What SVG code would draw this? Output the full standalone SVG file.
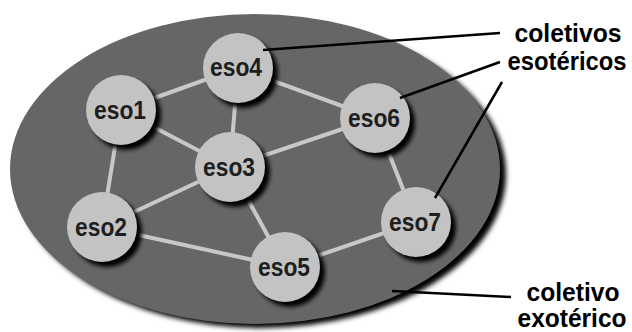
<svg xmlns="http://www.w3.org/2000/svg" width="632" height="332" viewBox="0 0 632 332">
  <defs>
    <filter id="soft" x="-20%" y="-20%" width="140%" height="140%">
      <feGaussianBlur stdDeviation="2.5"/>
    </filter>
    <filter id="softSmall" x="-30%" y="-30%" width="160%" height="160%">
      <feGaussianBlur stdDeviation="2"/>
    </filter>
  </defs>
  <style>
    .edge { stroke: #c8c8c8; stroke-width: 4; fill: none; }
    .pointer { stroke: #000; stroke-width: 2.5; fill: none; }
    .disc { fill: #c3c3c3; }
    .shadow { fill: #000; filter: url(#softSmall); }
    .name { font-family: "Liberation Sans", Arial, sans-serif; font-weight: bold; font-size: 22px; fill: #1e1e1e; text-anchor: middle; }
    .label { font-family: "Liberation Sans", Arial, sans-serif; font-weight: bold; font-size: 23px; fill: #000; text-anchor: middle; }
  </style>

  <!-- outer region -->
  <g id="exoteric">
    <ellipse cx="261" cy="174" rx="245" ry="154" fill="#000" filter="url(#soft)"/>
    <ellipse cx="255" cy="169" rx="245" ry="155" fill="#666"/>
  </g>

  <!-- links between members -->
  <g id="connectors">
    <line class="edge" x1="121" y1="110" x2="238" y2="68"/>
    <line class="edge" x1="238" y1="68" x2="375" y2="118"/>
    <line class="edge" x1="238" y1="68" x2="230" y2="167"/>
    <line class="edge" x1="121" y1="110" x2="230" y2="167"/>
    <line class="edge" x1="121" y1="110" x2="102" y2="227"/>
    <line class="edge" x1="230" y1="167" x2="375" y2="118"/>
    <line class="edge" x1="230" y1="167" x2="102" y2="227"/>
    <line class="edge" x1="230" y1="167" x2="285" y2="267"/>
    <line class="edge" x1="102" y1="227" x2="285" y2="267"/>
    <line class="edge" x1="285" y1="267" x2="416" y2="222"/>
    <line class="edge" x1="375" y1="118" x2="416" y2="222"/>
  </g>

  <!-- node names are set slightly taller than wide -->
  <g id="eso1">
    <circle class="shadow" cx="126" cy="115" r="35"/>
    <circle class="disc" cx="121" cy="110" r="35"/>
    <text class="name" transform="translate(120 119) scale(1 1.18)" textLength="52" lengthAdjust="spacingAndGlyphs">eso1</text>
  </g>
  <g id="eso2">
    <circle class="shadow" cx="107" cy="232" r="35"/>
    <circle class="disc" cx="102" cy="227" r="35"/>
    <text class="name" transform="translate(101 236) scale(1 1.18)" textLength="52" lengthAdjust="spacingAndGlyphs">eso2</text>
  </g>
  <g id="eso3">
    <circle class="shadow" cx="235" cy="172" r="35"/>
    <circle class="disc" cx="230" cy="167" r="35"/>
    <text class="name" transform="translate(229 176) scale(1 1.18)" textLength="52" lengthAdjust="spacingAndGlyphs">eso3</text>
  </g>
  <g id="eso4">
    <circle class="shadow" cx="243" cy="73" r="35"/>
    <circle class="disc" cx="238" cy="68" r="35"/>
    <text class="name" transform="translate(236 76) scale(1 1.18)" textLength="52" lengthAdjust="spacingAndGlyphs">eso4</text>
  </g>
  <g id="eso5">
    <circle class="shadow" cx="290" cy="272" r="35"/>
    <circle class="disc" cx="285" cy="267" r="35"/>
    <text class="name" transform="translate(284 276) scale(1 1.18)" textLength="52" lengthAdjust="spacingAndGlyphs">eso5</text>
  </g>
  <g id="eso6">
    <circle class="shadow" cx="380" cy="123" r="35"/>
    <circle class="disc" cx="375" cy="118" r="35"/>
    <text class="name" transform="translate(374 127) scale(1 1.18)" textLength="52" lengthAdjust="spacingAndGlyphs">eso6</text>
  </g>
  <g id="eso7">
    <circle class="shadow" cx="421" cy="227" r="35"/>
    <circle class="disc" cx="416" cy="222" r="35"/>
    <text class="name" transform="translate(415 231) scale(1 1.18)" textLength="52" lengthAdjust="spacingAndGlyphs">eso7</text>
  </g>

  <!-- annotation pointers -->
  <g id="pointers">
    <line class="pointer" x1="263" y1="50" x2="500" y2="33"/>
    <line class="pointer" x1="400" y1="98" x2="500" y2="62"/>
    <line class="pointer" x1="502" y1="82" x2="435" y2="198"/>
    <line class="pointer" x1="392" y1="291" x2="511" y2="297"/>
  </g>

  <g id="label-esoteric">
    <text class="label" transform="translate(568 42) scale(1 1.15)" textLength="107" lengthAdjust="spacingAndGlyphs">coletivos</text>
    <text class="label" transform="translate(567 70) scale(1 1.15)" textLength="119" lengthAdjust="spacingAndGlyphs">esotéricos</text>
  </g>
  <g id="label-exoteric">
    <text class="label" transform="translate(573 301) scale(1 1.15)" textLength="93" lengthAdjust="spacingAndGlyphs">coletivo</text>
    <text class="label" transform="translate(572 327) scale(1 1.12)" textLength="109" lengthAdjust="spacingAndGlyphs">exotérico</text>
  </g>
</svg>
